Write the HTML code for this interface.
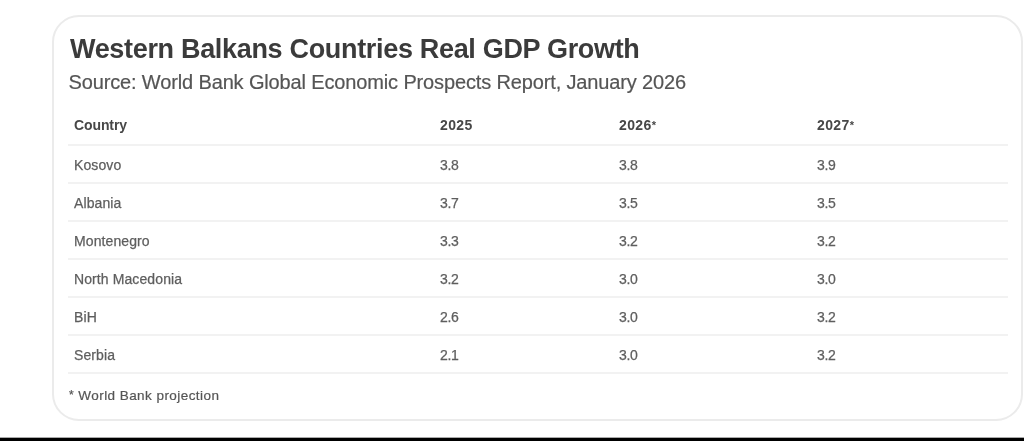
<!DOCTYPE html>
<html><head><meta charset="utf-8">
<style>
html,body{margin:0;padding:0;background:#fff;width:1024px;height:441px;overflow:hidden;position:relative;font-family:"Liberation Sans",sans-serif;}
.wrap{position:absolute;left:0;top:0;width:1024px;height:441px;filter:grayscale(1);}
.card{position:absolute;left:51.5px;top:14.5px;width:971px;height:406.5px;border:2px solid #ebebeb;border-radius:27px;box-sizing:border-box;}
.ast{font-size:11px;position:relative;top:-1px;}
.t{position:absolute;white-space:nowrap;line-height:1;}
.title{left:70px;top:35.6px;font-size:27px;font-weight:bold;color:#3b3b3b;letter-spacing:-0.32px;}
.sub{left:68.5px;top:71.5px;font-size:20px;color:#555;letter-spacing:-0.14px;-webkit-text-stroke:0.2px #555;}
.h{font-size:14px;font-weight:bold;color:#474747;letter-spacing:-0.1px;}
.c{font-size:14px;color:#5e5e5e;letter-spacing:0.1px;-webkit-text-stroke:0.25px #5e5e5e;}
.n{letter-spacing:-0.4px;}
.line{position:absolute;left:68px;width:940px;height:2px;background:#f2f2f2;}
.foot{left:69px;top:389.2px;font-size:13.5px;color:#555;letter-spacing:0.44px;-webkit-text-stroke:0.2px #555;}
.bar{position:absolute;left:0;top:437px;width:1024px;height:4px;background:linear-gradient(#aaa 0,#aaa 1px,#000 1px);}
</style></head><body><div class="wrap">
<div class="card"></div>
<div class="t title">Western Balkans Countries Real GDP Growth</div>
<div class="t sub">Source: World Bank Global Economic Prospects Report, January 2026</div>

<div class="t h" style="left:74px;top:117.5px">Country</div>
<div class="t h" style="left:440px;top:118px;letter-spacing:0.4px">2025</div>
<div class="t h" style="left:619px;top:118px;letter-spacing:0.4px">2026<span class="ast">*</span></div>
<div class="t h" style="left:817px;top:118px;letter-spacing:0.4px">2027<span class="ast">*</span></div>
<div class="line" style="top:144px"></div>

<div class="t c" style="left:74px;top:157.7px">Kosovo</div>
<div class="t c n" style="left:440px;top:157.7px">3.8</div>
<div class="t c n" style="left:619px;top:157.7px">3.8</div>
<div class="t c n" style="left:817px;top:157.7px">3.9</div>
<div class="line" style="top:182px"></div>

<div class="t c" style="left:74px;top:195.7px">Albania</div>
<div class="t c n" style="left:440px;top:195.7px">3.7</div>
<div class="t c n" style="left:619px;top:195.7px">3.5</div>
<div class="t c n" style="left:817px;top:195.7px">3.5</div>
<div class="line" style="top:220px"></div>

<div class="t c" style="left:74px;top:233.7px">Montenegro</div>
<div class="t c n" style="left:440px;top:233.7px">3.3</div>
<div class="t c n" style="left:619px;top:233.7px">3.2</div>
<div class="t c n" style="left:817px;top:233.7px">3.2</div>
<div class="line" style="top:258px"></div>

<div class="t c" style="left:74px;top:271.7px">North Macedonia</div>
<div class="t c n" style="left:440px;top:271.7px">3.2</div>
<div class="t c n" style="left:619px;top:271.7px">3.0</div>
<div class="t c n" style="left:817px;top:271.7px">3.0</div>
<div class="line" style="top:296px"></div>

<div class="t c" style="left:74px;top:309.7px">BiH</div>
<div class="t c n" style="left:440px;top:309.7px">2.6</div>
<div class="t c n" style="left:619px;top:309.7px">3.0</div>
<div class="t c n" style="left:817px;top:309.7px">3.2</div>
<div class="line" style="top:334px"></div>

<div class="t c" style="left:74px;top:347.7px">Serbia</div>
<div class="t c n" style="left:440px;top:347.7px">2.1</div>
<div class="t c n" style="left:619px;top:347.7px">3.0</div>
<div class="t c n" style="left:817px;top:347.7px">3.2</div>
<div class="line" style="top:372px"></div>

<div class="t foot"><span style="font-size:12px;position:relative;top:-1px">*</span> World Bank projection</div>
<div class="bar"></div>
</div></body></html>
